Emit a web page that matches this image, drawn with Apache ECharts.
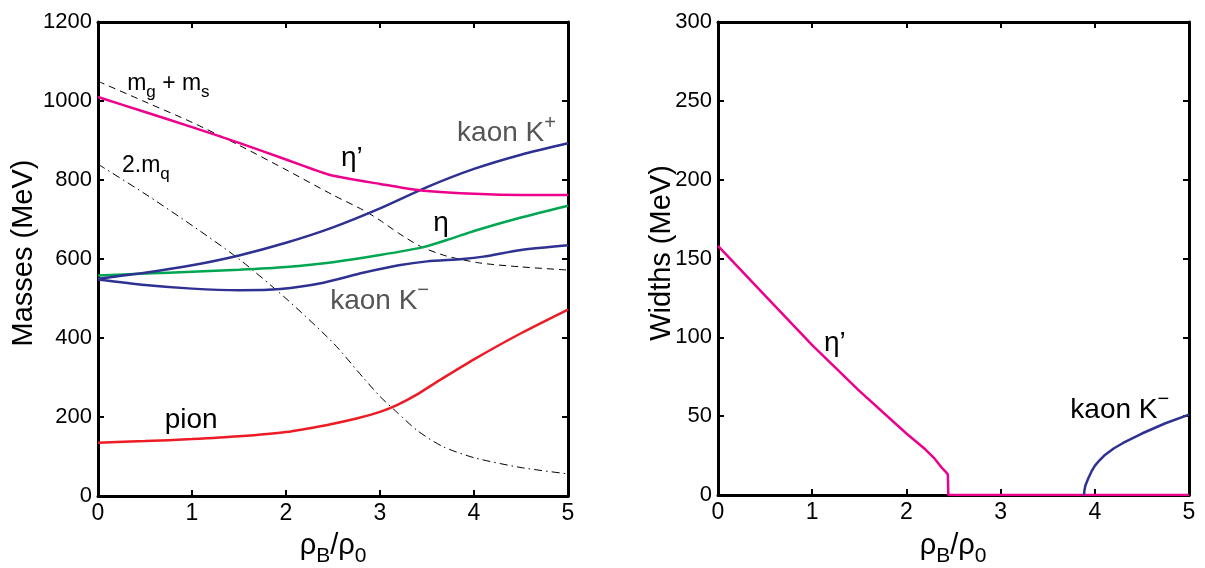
<!DOCTYPE html>
<html>
<head>
<meta charset="utf-8">
<script src="https://cdn.jsdelivr.net/npm/echarts@6/dist/echarts.min.js"></script>
<style>html,body{margin:0;padding:0;background:#fff}#c{width:1205px;height:568px}</style>
</head>
<body>
<div id="c"></div>
<script>
// ---- data (x = rho_B/rho_0) ----
const etaPrimeMass = [[0,1010],[0.5,972],[1,934],[1.5,894],[2,852],[2.3,826],[2.45,814],[2.7,802],[3,790],[3.25,780],[3.5,772],[4,765],[4.5,762],[5,762]];
const mgms = [[0,1050],[0.5,998],[1,946],[1.5,888],[2,826],[2.5,762],[2.82,724],[3,698],[3.2,665],[3.43,632],[3.7,608],[4.06,590],[4.5,580],[5,572]];
const kaonPlus = [[0,550],[0.5,565],[1,584],[1.5,609],[2,641],[2.5,680],[3,728],[3.5,782],[4,828],[4.5,864],[5,893]];
const etaMass = [[0,558],[0.5,563],[1,568],[1.5,573],[2,580],[2.5,592],[3,610],[3.46,630],[3.75,651],[4,671],[4.5,705],[5,735]];
const kaonMinus = [[0,548],[0.5,534],[1,525],[1.5,521],[1.94,524],[2.4,540],[2.82,565],[3.2,584],[3.5,594],[3.88,600],[4.1,606],[4.5,623],[5,635]];
const pion = [[0,135],[0.5,139],[1,144],[1.5,151],[2,162],[2.44,180],[2.75,196],[3,213],[3.18,230],[3.4,258],[3.64,294],[4,346],[4.5,412],[5,472]];
const twoMq = [[0,840],[0.5,765],[1,685],[1.5,600],[2,500],[2.5,388],[2.82,300],[3,252],[3.18,212],[3.4,165],[3.67,125],[4,97],[4.5,72],[5,56]];
const etaPrimeWidth = [[0,158],[0.5,126.5],[1,95],[1.5,66],[2,39],[2.2,29],[2.3,23],[2.38,17],[2.42,14.5],[2.44,13],[2.445,0],[3,0],[4,0],[5,0]];
const kaonMinusWidth = [[3.885,0],[3.89,3],[3.9,6],[3.93,10.5],[3.97,15.5],[4,18.5],[4.05,22],[4.1,25],[4.2,29.5],[4.3,33],[4.5,39],[4.75,45.5],[5,51]];
const massTicks = [0,200,400,600,800,1000,1200];
const widthTicks = [0,50,100,150,200,250,300];
const xTicks = [0,1,2,3,4,5];
// label anchors [grid, x, y, text, align, color, size]
const labels = [
  [0, 0.31, 1045, 'm{s|g} + m{s|s}', 'left', '#000', 23],
  [0, 0.255, 837, '2.m{s|q}', 'left', '#000', 23],
  [0, 2.70, 856, 'η’', 'center', '#000', 28],
  [0, 3.82, 918, 'kaon K{p|+}', 'left', '#555', 28],
  [0, 3.65, 691, 'η', 'center', '#000', 28],
  [0, 2.47, 494, 'kaon K{p|−}', 'left', '#555', 28],
  [0, 0.71, 192, 'pion', 'left', '#000', 28],
  [1, 1.24, 96, 'η’', 'center', '#000', 28],
  [1, 3.74, 54, 'kaon K{p|−}', 'left', '#000', 28]
];

const PINK = '#ec008c', BLUE = '#2e3192', GREEN = '#00a651', RED = '#ed1c24';
const FONT = 'Liberation Sans, Arial, sans-serif';
const chart = echarts.init(document.getElementById('c'));

function xAx(gi, pos, show) {
  return {type:'value', gridIndex:gi, min:0, max:5, interval:1, position:pos,
    axisLine:{show:true, onZero:false, lineStyle:{color:'#000', width:3}},
    axisTick:{show:true, inside:true, length:6, lineStyle:{color:'#000', width:2}},
    axisLabel:{show:show, color:'#000', fontSize:23, fontFamily:FONT, margin:6, formatter:v => xTicks.includes(v) ? String(v) : ''},
    splitLine:{show:false}};
}
function yAx(gi, pos, show, max, iv, ticks) {
  return {type:'value', gridIndex:gi, min:0, max:max, interval:iv, position:pos,
    axisLine:{show:true, onZero:false, lineStyle:{color:'#000', width:3}},
    axisTick:{show:true, inside:true, length:6, lineStyle:{color:'#000', width:2}},
    axisLabel:{show:show, color:'#000', fontSize:22, fontFamily:FONT, margin:6, formatter:v => ticks.includes(v) ? String(v) : ''},
    splitLine:{show:false}};
}
function ln(xi, data, color, width, type, z) {
  return {type:'line', xAxisIndex:xi, yAxisIndex:xi, data:data, showSymbol:false, smooth:0.25,
    lineStyle:{color:color, width:width, type:type||'solid'}, z:z||3, silent:true, animation:false};
}

chart.setOption({
  animation:false,
  grid:[{left:98, top:22, width:470, height:474},{left:718, top:22, width:471, height:473}],
  xAxis:[xAx(0,'bottom',true), xAx(0,'top',false), xAx(1,'bottom',true), xAx(1,'top',false)],
  yAxis:[yAx(0,'left',true,1200,200,massTicks), yAx(0,'right',false,1200,200,massTicks), yAx(1,'left',true,300,50,widthTicks), yAx(1,'right',false,300,50,widthTicks)],
  series:[
    ln(0, mgms, '#000', 1, [7,5], 2),
    ln(0, twoMq, '#000', 1, [8,4,1.5,4], 2),
    ln(0, pion, RED, 2.5),
    ln(0, kaonMinus, BLUE, 2.5),
    ln(0, etaMass, GREEN, 2.5),
    ln(0, kaonPlus, BLUE, 2.5),
    ln(0, etaPrimeMass, PINK, 2.5),
    Object.assign(ln(2, etaPrimeWidth, PINK, 2.5), {smooth:false}),
    Object.assign(ln(2, kaonMinusWidth, BLUE, 2.5), {smooth:false})
  ]
});

const rich = (size, color) => ({
  b:{fontSize:size, fontFamily:FONT, color:color, lineHeight:size+12, verticalAlign:'middle'},
  s:{fontSize:Math.round(size*0.72), fontFamily:FONT, color:color, lineHeight:size+12, verticalAlign:'bottom'},
  p:{fontSize:Math.round(size*0.72), fontFamily:FONT, color:color, lineHeight:size+12, verticalAlign:'top'}
});
const g = [];
labels.forEach(l => {
  const p = chart.convertToPixel({gridIndex:l[0]}, [l[1], l[2]]);
  const txt = l[3].replace(/^([^{]*)/, '{b|$1}').replace(/\}([^{}]+)\{/g, '}{b|$1}{').replace(/\}([^{}]+)$/, '}{b|$1}');
  g.push({type:'text', x:p[0], y:p[1], silent:true, style:{text:txt, rich:rich(l[6], l[5]), fill:l[5], fontSize:l[6], fontFamily:FONT, align:l[4], verticalAlign:'middle'}});
});
// axis titles
g.push({type:'text', x:24, y:253, rotation:Math.PI/2, silent:true, style:{text:'Masses (MeV)', fontSize:29, fontFamily:FONT, fill:'#000', align:'center', verticalAlign:'middle'}});
g.push({type:'text', x:662, y:253, rotation:Math.PI/2, silent:true, style:{text:'Widths (MeV)', fontSize:29, fontFamily:FONT, fill:'#000', align:'center', verticalAlign:'middle'}});
const xt = '{b|ρ}{s|B}{b|/ρ}{s|0}';
[333, 953].forEach(cx => g.push({type:'text', x:cx, y:546, silent:true, style:{text:xt, rich:rich(29,'#000'), align:'center', verticalAlign:'middle'}}));
chart.setOption({graphic:g});
</script>
</body>
</html>
